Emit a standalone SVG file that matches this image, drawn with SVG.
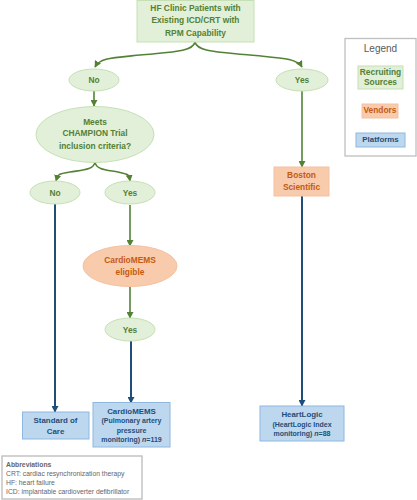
<svg xmlns="http://www.w3.org/2000/svg" width="417" height="500" viewBox="0 0 417 500">
<style>
text{font-family:"Liberation Sans",Arial,sans-serif;text-anchor:middle}
.g{fill:#e2f0d9;stroke:#c5e0b4;stroke-width:1}
.o{fill:#f8cbad;stroke:#f4c2a1;stroke-width:1}
.b{fill:#bdd7ee;stroke:#8fb8e0;stroke-width:1}
.gt{fill:#538135;font-weight:bold;font-size:8.4px}
.ot{fill:#c55a11;font-weight:bold;font-size:8.4px}
.bt{fill:#1f4e79;font-weight:bold;font-size:7.9px}
.bs{fill:#1f4e79;font-weight:bold;font-size:7px}
.gc{fill:none;stroke:#548235;stroke-width:1.6}
.bc{fill:none;stroke:#1f4e79;stroke-width:2}
.ab{fill:#666666;font-size:6.8px;text-anchor:start}
</style>
<defs>
<marker id="ag" markerUnits="userSpaceOnUse" markerWidth="7" markerHeight="7" refX="6" refY="3.5" orient="auto"><path d="M0,0 L6.5,3.5 L0,7 z" fill="#548235"/></marker>
<marker id="ab" markerUnits="userSpaceOnUse" markerWidth="7" markerHeight="7" refX="6" refY="3.5" orient="auto"><path d="M0,0 L6.5,3.5 L0,7 z" fill="#1f4e79"/></marker>
</defs>
<g id="connectors">
<path class="gc" d="M195,42 C193,52 170,52 140,55 S100,58 95,67" marker-end="url(#ag)"/>
<path class="gc" d="M195,42 C197,52 220,52 250,55 S297,58 302,67" marker-end="url(#ag)"/>
<path class="gc" d="M94,91 L94,106" marker-end="url(#ag)"/>
<path class="gc" d="M302,91 L302,167" marker-end="url(#ag)"/>
<path class="gc" d="M95,162 C94,170 82,170 70,172 S58,174 56,181" marker-end="url(#ag)"/>
<path class="gc" d="M95,162 C96,170 108,170 118,172 S129,174 130,181" marker-end="url(#ag)"/>
<path class="gc" d="M130,205 L130,246" marker-end="url(#ag)"/>
<path class="gc" d="M130,287 L130,318" marker-end="url(#ag)"/>
<path class="bc" d="M55,204 L55,412" marker-end="url(#ab)"/>
<path class="bc" d="M131,341 L131,403" marker-end="url(#ab)"/>
<path class="bc" d="M302,196 L302,406" marker-end="url(#ab)"/>
</g>
<g id="top">
<rect class="g" x="137" y="0.5" width="117" height="41.5"/>
<text class="gt" x="195.5" y="10.5">HF Clinic Patients with</text>
<text class="gt" x="195.5" y="23">Existing ICD/CRT with</text>
<text class="gt" x="195.5" y="35.7">RPM Capability</text>
</g>
<g id="no1"><ellipse class="g" cx="94" cy="80" rx="25" ry="11"/><text class="gt" x="94" y="83">No</text></g>
<g id="yes1"><ellipse class="g" cx="302" cy="80" rx="26" ry="11"/><text class="gt" x="302" y="83">Yes</text></g>
<g id="meets"><ellipse class="g" cx="95" cy="134.5" rx="59" ry="28"/>
<text class="gt" x="95" y="124.7">Meets</text>
<text class="gt" x="95" y="136.3">CHAMPION Trial</text>
<text class="gt" x="95" y="149">inclusion criteria?</text></g>
<g id="no2"><ellipse class="g" cx="55" cy="192.5" rx="25" ry="11.5"/><text class="gt" x="55" y="195.7">No</text></g>
<g id="yes2"><ellipse class="g" cx="130" cy="192.5" rx="25" ry="11.5"/><text class="gt" x="130" y="195.7">Yes</text></g>
<g id="eligible"><ellipse class="o" cx="130" cy="266" rx="47" ry="20.5"/>
<text class="ot" x="130" y="263">CardioMEMS</text>
<text class="ot" x="130" y="274.7">eligible</text></g>
<g id="yes3"><ellipse class="g" cx="130" cy="329.5" rx="25" ry="11.5"/><text class="gt" x="130" y="332.5">Yes</text></g>
<g id="boston"><rect class="o" x="274" y="167" width="55" height="29"/>
<text class="ot" x="301.5" y="178">Boston</text>
<text class="ot" x="301.5" y="189.7">Scientific</text></g>
<g id="soc"><rect class="b" x="22.5" y="412" width="66.5" height="27"/>
<text class="bt" x="55.5" y="423">Standard of</text>
<text class="bt" x="55.5" y="434">Care</text></g>
<g id="cardiomems"><rect class="b" x="93" y="402.5" width="77" height="44.5"/>
<text class="bt" x="131.5" y="413.8">CardioMEMS</text>
<text class="bs" x="131.5" y="422.8">(Pulmonary artery</text>
<text class="bs" x="131.5" y="432.5">pressure</text>
<text class="bs" x="131.5" y="441.5">monitoring) <tspan font-style="italic">n</tspan>=119</text></g>
<g id="heartlogic"><rect class="b" x="260" y="406" width="84" height="35"/>
<text class="bt" x="302" y="416.8">HeartLogic</text>
<text class="bs" x="302" y="426.5">(HeartLogic Index</text>
<text class="bs" x="302" y="435.8">monitoring) <tspan font-style="italic">n</tspan>=88</text></g>
<g id="legend">
<rect x="345" y="38.5" width="71" height="117.5" fill="#fff" stroke="#bfbfbf" stroke-width="1.3"/>
<text x="380.5" y="51.5" fill="#595959" font-size="10px">Legend</text>
<rect class="g" x="358" y="66" width="45" height="23"/>
<text class="gt" x="380.5" y="75" font-size="6.6px">Recruiting</text>
<text class="gt" x="380.5" y="84.6" font-size="6.6px">Sources</text>
<rect class="o" x="362" y="104" width="36" height="14"/>
<text class="ot" x="380" y="113.3" font-size="6.6px">Vendors</text>
<rect class="b" x="356" y="133" width="49" height="14" stroke="#5b9bd5"/>
<text class="bt" x="380.5" y="142" font-size="6.6px">Platforms</text>
</g>
<g id="abbreviations">
<rect x="2" y="456" width="140" height="43" fill="#fff" stroke="#bfbfbf" stroke-width="1.4"/>
<text class="ab" x="6" y="466.5" font-weight="bold" font-size="7.1px" fill="#595959">Abbreviations</text>
<text class="ab" x="6" y="476.4">CRT: cardiac resynchronization therapy</text>
<text class="ab" x="6" y="484.7">HF: heart failure</text>
<text class="ab" x="6" y="494">ICD: implantable cardioverter defibrillator</text>
</g>
</svg>
